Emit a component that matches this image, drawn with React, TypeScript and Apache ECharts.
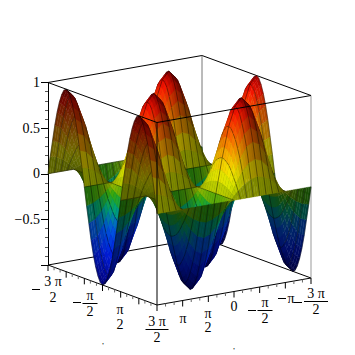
import React, { useEffect, useRef } from "react";
import * as echarts from "echarts";

// z: 25 rows along the front-right box edge, 49 columns along the front-left edge
const zRows: number[][] = [
[0,.2,.38,.56,.71,.83,.92,.98,1,.98,.92,.83,.71,.56,.38,.2,0,-.2,-.38,-.56,-.71,-.83,-.92,-.98,-1,-.98,-.92,-.83,-.71,-.56,-.38,-.2,0,.2,.38,.56,.71,.83,.92,.98,1,.98,.92,.83,.71,.56,.38,.2,0],
[0,.18,.35,.52,.65,.76,.85,.9,.92,.9,.85,.76,.65,.52,.35,.18,0,-.18,-.35,-.52,-.65,-.76,-.85,-.9,-.92,-.9,-.85,-.76,-.65,-.52,-.35,-.18,0,.18,.35,.52,.65,.76,.85,.9,.92,.9,.85,.76,.65,.52,.35,.18,0],
[0,.14,.27,.4,.5,.59,.65,.7,.71,.7,.65,.59,.5,.4,.27,.14,0,-.14,-.27,-.4,-.5,-.59,-.65,-.7,-.71,-.7,-.65,-.59,-.5,-.4,-.27,-.14,0,.14,.27,.4,.5,.59,.65,.7,.71,.7,.65,.59,.5,.4,.27,.14,0],
[0,.08,.15,.21,.27,.32,.35,.37,.38,.37,.35,.32,.27,.21,.15,.08,0,-.08,-.15,-.21,-.27,-.32,-.35,-.37,-.38,-.37,-.35,-.32,-.27,-.21,-.15,-.08,0,.08,.15,.21,.27,.32,.35,.37,.38,.37,.35,.32,.27,.21,.15,.08,0],
[0,0,0,0,0,0,0,0,0,0,0,0,0,0,0,0,0,0,0,0,0,0,0,0,0,0,0,0,0,0,0,0,0,0,0,0,0,0,0,0,0,0,0,0,0,0,0,0,0],
[0,-.08,-.15,-.21,-.27,-.32,-.35,-.37,-.38,-.37,-.35,-.32,-.27,-.21,-.15,-.08,0,.08,.15,.21,.27,.32,.35,.37,.38,.37,.35,.32,.27,.21,.15,.08,0,-.08,-.15,-.21,-.27,-.32,-.35,-.37,-.38,-.37,-.35,-.32,-.27,-.21,-.15,-.08,0],
[0,-.14,-.27,-.4,-.5,-.59,-.65,-.7,-.71,-.7,-.65,-.59,-.5,-.4,-.27,-.14,0,.14,.27,.4,.5,.59,.65,.7,.71,.7,.65,.59,.5,.4,.27,.14,0,-.14,-.27,-.4,-.5,-.59,-.65,-.7,-.71,-.7,-.65,-.59,-.5,-.4,-.27,-.14,0],
[0,-.18,-.35,-.52,-.65,-.76,-.85,-.9,-.92,-.9,-.85,-.76,-.65,-.52,-.35,-.18,0,.18,.35,.52,.65,.76,.85,.9,.92,.9,.85,.76,.65,.52,.35,.18,0,-.18,-.35,-.52,-.65,-.76,-.85,-.9,-.92,-.9,-.85,-.76,-.65,-.52,-.35,-.18,0],
[0,-.2,-.38,-.56,-.71,-.83,-.92,-.98,-1,-.98,-.92,-.83,-.71,-.56,-.38,-.2,0,.2,.38,.56,.71,.83,.92,.98,1,.98,.92,.83,.71,.56,.38,.2,0,-.2,-.38,-.56,-.71,-.83,-.92,-.98,-1,-.98,-.92,-.83,-.71,-.56,-.38,-.2,0],
[0,-.18,-.35,-.52,-.65,-.76,-.85,-.9,-.92,-.9,-.85,-.76,-.65,-.52,-.35,-.18,0,.18,.35,.52,.65,.76,.85,.9,.92,.9,.85,.76,.65,.52,.35,.18,0,-.18,-.35,-.52,-.65,-.76,-.85,-.9,-.92,-.9,-.85,-.76,-.65,-.52,-.35,-.18,0],
[0,-.14,-.27,-.4,-.5,-.59,-.65,-.7,-.71,-.7,-.65,-.59,-.5,-.4,-.27,-.14,0,.14,.27,.4,.5,.59,.65,.7,.71,.7,.65,.59,.5,.4,.27,.14,0,-.14,-.27,-.4,-.5,-.59,-.65,-.7,-.71,-.7,-.65,-.59,-.5,-.4,-.27,-.14,0],
[0,-.08,-.15,-.21,-.27,-.32,-.35,-.37,-.38,-.37,-.35,-.32,-.27,-.21,-.15,-.08,0,.08,.15,.21,.27,.32,.35,.37,.38,.37,.35,.32,.27,.21,.15,.08,0,-.08,-.15,-.21,-.27,-.32,-.35,-.37,-.38,-.37,-.35,-.32,-.27,-.21,-.15,-.08,0],
[0,0,0,0,0,0,0,0,0,0,0,0,0,0,0,0,0,0,0,0,0,0,0,0,0,0,0,0,0,0,0,0,0,0,0,0,0,0,0,0,0,0,0,0,0,0,0,0,0],
[0,.08,.15,.21,.27,.32,.35,.37,.38,.37,.35,.32,.27,.21,.15,.08,0,-.08,-.15,-.21,-.27,-.32,-.35,-.37,-.38,-.37,-.35,-.32,-.27,-.21,-.15,-.08,0,.08,.15,.21,.27,.32,.35,.37,.38,.37,.35,.32,.27,.21,.15,.08,0],
[0,.14,.27,.4,.5,.59,.65,.7,.71,.7,.65,.59,.5,.4,.27,.14,0,-.14,-.27,-.4,-.5,-.59,-.65,-.7,-.71,-.7,-.65,-.59,-.5,-.4,-.27,-.14,0,.14,.27,.4,.5,.59,.65,.7,.71,.7,.65,.59,.5,.4,.27,.14,0],
[0,.18,.35,.52,.65,.76,.85,.9,.92,.9,.85,.76,.65,.52,.35,.18,0,-.18,-.35,-.52,-.65,-.76,-.85,-.9,-.92,-.9,-.85,-.76,-.65,-.52,-.35,-.18,0,.18,.35,.52,.65,.76,.85,.9,.92,.9,.85,.76,.65,.52,.35,.18,0],
[0,.2,.38,.56,.71,.83,.92,.98,1,.98,.92,.83,.71,.56,.38,.2,0,-.2,-.38,-.56,-.71,-.83,-.92,-.98,-1,-.98,-.92,-.83,-.71,-.56,-.38,-.2,0,.2,.38,.56,.71,.83,.92,.98,1,.98,.92,.83,.71,.56,.38,.2,0],
[0,.18,.35,.52,.65,.76,.85,.9,.92,.9,.85,.76,.65,.52,.35,.18,0,-.18,-.35,-.52,-.65,-.76,-.85,-.9,-.92,-.9,-.85,-.76,-.65,-.52,-.35,-.18,0,.18,.35,.52,.65,.76,.85,.9,.92,.9,.85,.76,.65,.52,.35,.18,0],
[0,.14,.27,.4,.5,.59,.65,.7,.71,.7,.65,.59,.5,.4,.27,.14,0,-.14,-.27,-.4,-.5,-.59,-.65,-.7,-.71,-.7,-.65,-.59,-.5,-.4,-.27,-.14,0,.14,.27,.4,.5,.59,.65,.7,.71,.7,.65,.59,.5,.4,.27,.14,0],
[0,.08,.15,.21,.27,.32,.35,.37,.38,.37,.35,.32,.27,.21,.15,.08,0,-.08,-.15,-.21,-.27,-.32,-.35,-.37,-.38,-.37,-.35,-.32,-.27,-.21,-.15,-.08,0,.08,.15,.21,.27,.32,.35,.37,.38,.37,.35,.32,.27,.21,.15,.08,0],
[0,0,0,0,0,0,0,0,0,0,0,0,0,0,0,0,0,0,0,0,0,0,0,0,0,0,0,0,0,0,0,0,0,0,0,0,0,0,0,0,0,0,0,0,0,0,0,0,0],
[0,-.08,-.15,-.21,-.27,-.32,-.35,-.37,-.38,-.37,-.35,-.32,-.27,-.21,-.15,-.08,0,.08,.15,.21,.27,.32,.35,.37,.38,.37,.35,.32,.27,.21,.15,.08,0,-.08,-.15,-.21,-.27,-.32,-.35,-.37,-.38,-.37,-.35,-.32,-.27,-.21,-.15,-.08,0],
[0,-.14,-.27,-.4,-.5,-.59,-.65,-.7,-.71,-.7,-.65,-.59,-.5,-.4,-.27,-.14,0,.14,.27,.4,.5,.59,.65,.7,.71,.7,.65,.59,.5,.4,.27,.14,0,-.14,-.27,-.4,-.5,-.59,-.65,-.7,-.71,-.7,-.65,-.59,-.5,-.4,-.27,-.14,0],
[0,-.18,-.35,-.52,-.65,-.76,-.85,-.9,-.92,-.9,-.85,-.76,-.65,-.52,-.35,-.18,0,.18,.35,.52,.65,.76,.85,.9,.92,.9,.85,.76,.65,.52,.35,.18,0,-.18,-.35,-.52,-.65,-.76,-.85,-.9,-.92,-.9,-.85,-.76,-.65,-.52,-.35,-.18,0],
[0,-.2,-.38,-.56,-.71,-.83,-.92,-.98,-1,-.98,-.92,-.83,-.71,-.56,-.38,-.2,0,.2,.38,.56,.71,.83,.92,.98,1,.98,.92,.83,.71,.56,.38,.2,0,-.2,-.38,-.56,-.71,-.83,-.92,-.98,-1,-.98,-.92,-.83,-.71,-.56,-.38,-.2,0],
];
const zTickLabels: Record<string, string> = { "1": "1", "0.5": "0.5", "0": "0", "-0.5": "\u22120.5", "-1": "" };
const leftEdgeLabels = [
  { minus: true, num: "3 \u03c0", den: "2" },
  { minus: true, num: "\u03c0", den: "2" },
  { minus: false, num: "\u03c0", den: "2" },
  { minus: false, num: "3 \u03c0", den: "2" },
];
const rightEdgeLabels = [
  { minus: false, num: "\u03c0", den: "" },
  { minus: false, num: "\u03c0", den: "2" },
  { minus: false, num: "0", den: "" },
  { minus: true, num: "\u03c0", den: "2" },
  { minus: true, num: "\u03c0", den: "" },
  { minus: true, num: "3 \u03c0", den: "2" },
];
const strayLabels = [",", ","];

// ---- layout / style ----
const G = { left: 48, top: 82.5, width: 263, height: 182.5 };
const EU = { x: 109, y: 40 };
const EV = { x: 154, y: -27 };
const FONT = "'Liberation Serif','DejaVu Serif',serif";
const FS = 14;
const leftLayout = [
  { cx: 53, ny: 281, dy: 297, bar: 0, mx: 36, my: 289 },
  { cx: 90, ny: 295, dy: 311, bar: 7.5, mx: 77, my: 302 },
  { cx: 120, ny: 309, dy: 324, bar: 0, mx: 0, my: 0 },
  { cx: 157, ny: 321, dy: 337, bar: 11.5, mx: 0, my: 0 },
];
const rightLayout = [
  { cx: 183, ny: 318, dy: 0, bar: 0, mx: 0, my: 0 },
  { cx: 208, ny: 313, dy: 327, bar: 0, mx: 0, my: 0 },
  { cx: 234, ny: 306, dy: 0, bar: 0, mx: 0, my: 0 },
  { cx: 265, ny: 302, dy: 318, bar: 7.5, mx: 252, my: 310 },
  { cx: 291, ny: 298, dy: 0, bar: 0, mx: 282, my: 298 },
  { cx: 316, ny: 293, dy: 309, bar: 12, mx: 298, my: 302 },
];
const strayLayout = [ { x: 103, y: 341 }, { x: 234, y: 346 } ];

const COLOR_STOPS: [number, number[]][] = [
  [-1, [0, 0, 130]],
  [-0.7, [0, 30, 230]],
  [-0.45, [0, 90, 230]],
  [-0.25, [0, 165, 120]],
  [-0.1, [50, 170, 15]],
  [0, [170, 190, 0]],
  [0.12, [220, 235, 0]],
  [0.25, [250, 235, 0]],
  [0.55, [255, 130, 0]],
  [0.85, [255, 20, 0]],
  [1, [170, 0, 0]],
];
const LIGHT = [0.2, -0.8, 0.3];
const AMBIENT = 0.45;
const DIFFUSE = 0.6;
const MESH_U_EVERY = 8;
const STRIPS = 3;
const MESH_COLOR = "rgba(0,0,0,0.5)";
const MESH_W = 0.8;

function hue(z: number) {
  for (let k = 1; k < COLOR_STOPS.length; k++) {
    if (z <= COLOR_STOPS[k][0]) {
      const [a, ca] = COLOR_STOPS[k - 1];
      const [b, cb] = COLOR_STOPS[k];
      const t = Math.max(0, (z - a) / (b - a));
      return ca.map((c, n) => c + (cb[n] - c) * t);
    }
  }
  return COLOR_STOPS[COLOR_STOPS.length - 1][1];
}

function proj(u: number, v: number, z: number): [number, number] {
  const h = (EU.x * u + EV.x * v) / G.width;
  const zz = z - (EU.y * u + EV.y * v) / (G.height / 2);
  return [h, zz];
}

const NV = zRows.length - 1;
const NU = zRows[0].length - 1;

function gradU(i: number, j: number) {
  const a = Math.max(0, i - 1), b = Math.min(NU, i + 1);
  return ((zRows[j][b] - zRows[j][a]) / ((b - a) / NU)) * 0.5;
}
function gradV(i: number, j: number) {
  const a = Math.max(0, j - 1), b = Math.min(NV, j + 1);
  return ((zRows[b][i] - zRows[a][i]) / ((b - a) / NV)) * 0.5;
}
function stripColor(i: number, j: number, t: number) {
  const lerp2 = (f: (i: number, j: number) => number) =>
    ((f(i, j) + f(i + 1, j)) / 2) * (1 - t) + ((f(i, j + 1) + f(i + 1, j + 1)) / 2) * t;
  const zAt = lerp2((a, b) => zRows[b][a]);
  const du = lerp2(gradU);
  const dv = lerp2(gradV);
  const len = Math.hypot(du, dv, 1);
  const nl = Math.max(0, (-du * LIGHT[0] - dv * LIGHT[1] + LIGHT[2]) / len);
  const k = AMBIENT + DIFFUSE * nl;
  const rgb = hue(zAt).map((x) => Math.min(255, Math.round(x * k)));
  return `rgb(${rgb[0]},${rgb[1]},${rgb[2]})`;
}

const quads: number[][] = [];
for (let i = 0; i < NU; i++) for (let j = NV - 1; j >= 0; j--) quads.push([i, j]);

const backEdges = [
  [0, 0, 1, 0, 1, 1, "#000"],
  [0, 1, 1, 1, 1, 1, "#000"],
  [0, 0, -1, 0, 1, -1, "#000"],
  [0, 1, -1, 1, 1, -1, "#000"],
  [0, 1, -1, 0, 1, 1, "#777"],
  [1, 1, -1, 1, 1, 1, "#999"],
];
const frontEdges = [
  [0, 0, 1, 1, 0, 1, "#000"],
  [1, 0, 1, 1, 1, 1, "#000"],
  [0, 0, -1, 1, 0, -1, "#000"],
  [1, 0, -1, 1, 1, -1, "#000"],
  [1, 0, -1, 1, 0, 1, "#000"],
];

const TICKS = 18;
const edgeTicks: number[][] = [];
for (let k = 0; k <= TICKS; k++) {
  edgeTicks.push([k / TICKS, 0, k % 3 === 0 ? 1 : 0]);
  if (k > 0) edgeTicks.push([1, k / TICKS, k % 3 === 0 ? 1 : 0]);
}

function edgeRender(_: any, api: any) {
  const a = api.coord(proj(api.value(0), api.value(1), api.value(2)));
  const b = api.coord(proj(api.value(3), api.value(4), api.value(5)));
  return {
    type: "line",
    shape: { x1: a[0], y1: a[1], x2: b[0], y2: b[1] },
    style: { stroke: api.value(6), lineWidth: 1 },
  };
}

function buildOption() {
  const graphics: any[] = [];
  const txt = (text: string, x: number, y: number, fs = FS) => ({
    type: "text",
    style: { text, x, y, fill: "#000", fontFamily: FONT, fontSize: fs, align: "center", verticalAlign: "middle" },
    z: 20,
  });
  const bar = (x1: number, x2: number, y: number) => ({
    type: "line",
    shape: { x1, y1: y + 0.5, x2, y2: y + 0.5 },
    style: { stroke: "#000", lineWidth: 1 },
    z: 20,
  });
  const place = (labels: any[], layout: any[]) =>
    labels.forEach((l, k) => {
      const p = layout[k];
      graphics.push(txt(l.num, p.cx, p.ny));
      if (l.den) graphics.push(txt(l.den, p.cx, p.dy));
      if (p.bar) graphics.push(bar(p.cx - p.bar, p.cx + p.bar, (p.ny + p.dy) / 2));
      if (l.minus) graphics.push(bar(p.mx - 4, p.mx + 4, p.my));
    });
  place(leftEdgeLabels, leftLayout);
  place(rightEdgeLabels, rightLayout);
  strayLabels.forEach((s, k) => graphics.push(txt(s, strayLayout[k].x, strayLayout[k].y, 8)));

  return {
    animation: false,
    backgroundColor: "#fff",
    grid: { left: G.left, top: G.top, width: G.width, height: G.height },
    xAxis: { type: "value", min: 0, max: 1, show: false },
    yAxis: {
      type: "value",
      min: -1,
      max: 1,
      interval: 0.5,
      position: "left",
      axisLine: { show: true, onZero: false, lineStyle: { color: "#000", width: 1 } },
      axisTick: { show: true, length: 7, lineStyle: { color: "#000" } },
      minorTick: { show: true, splitNumber: 5, length: 3, lineStyle: { color: "#555" } },
      splitLine: { show: false },
      axisLabel: {
        margin: 8,
        color: "#000",
        fontFamily: FONT,
        fontSize: FS,
        formatter: (v: number) => zTickLabels[String(v)] ?? "",
      },
    },
    graphic: graphics,
    series: [
      { type: "custom", z: 1, silent: true, coordinateSystem: "cartesian2d", data: backEdges, renderItem: edgeRender, encode: { x: 0, y: 1 } },
      {
        type: "custom",
        z: 2,
        silent: true,
        coordinateSystem: "cartesian2d",
        data: quads,
        encode: { x: 0, y: 1 },
        renderItem: (_: any, api: any) => {
          const i = api.value(0), j = api.value(1);
          const c = (a: number, b: number) => api.coord(proj(a / NU, b / NV, zRows[b][a]));
          const p1 = c(i, j), p2 = c(i + 1, j), p3 = c(i + 1, j + 1), p4 = c(i, j + 1);
          const mix = (a: number[], b: number[], t: number) => [a[0] + (b[0] - a[0]) * t, a[1] + (b[1] - a[1]) * t];
          const kids: any[] = [];
          for (let s = STRIPS - 1; s >= 0; s--) {
            const t0 = s / STRIPS, t1 = (s + 1) / STRIPS;
            const fill = stripColor(i, j, (s + 0.5) / STRIPS);
            kids.push({
              type: "polygon",
              shape: { points: [mix(p1, p4, t0), mix(p2, p3, t0), mix(p2, p3, t1), mix(p1, p4, t1)] },
              style: { fill, stroke: fill, lineWidth: 0.4 },
            });
          }
          const seg = (a: number[], b: number[]) => ({
            type: "line",
            shape: { x1: a[0], y1: a[1], x2: b[0], y2: b[1] },
            style: { stroke: MESH_COLOR, lineWidth: MESH_W },
          });
          kids.push(seg(p4, p3));
          if (j === 0) kids.push(seg(p1, p2));
          if (i % MESH_U_EVERY === 0) kids.push(seg(p1, p4));
          return { type: "group", children: kids };
        },
      },
      { type: "custom", z: 3, silent: true, coordinateSystem: "cartesian2d", data: frontEdges, renderItem: edgeRender, encode: { x: 0, y: 1 } },
      {
        type: "custom",
        z: 3,
        silent: true,
        coordinateSystem: "cartesian2d",
        data: edgeTicks,
        encode: { x: 0, y: 1 },
        renderItem: (_: any, api: any) => {
          const a = api.coord(proj(api.value(0), api.value(1), -1));
          const len = api.value(2) ? 6 : 3;
          return {
            type: "line",
            shape: { x1: a[0], y1: a[1], x2: a[0], y2: a[1] + len },
            style: { stroke: api.value(2) ? "#000" : "#666", lineWidth: 1 },
          };
        },
      },
    ],
  };
}

export default function App() {
  const ref = useRef<HTMLDivElement>(null);
  useEffect(() => {
    document.body.style.margin = "0";
    const chart = echarts.init(ref.current!, undefined, { renderer: "svg" });
    chart.setOption(buildOption() as any);
    return () => chart.dispose();
  }, []);
  return <div ref={ref} style={{ width: 355, height: 355 }} />;
}
